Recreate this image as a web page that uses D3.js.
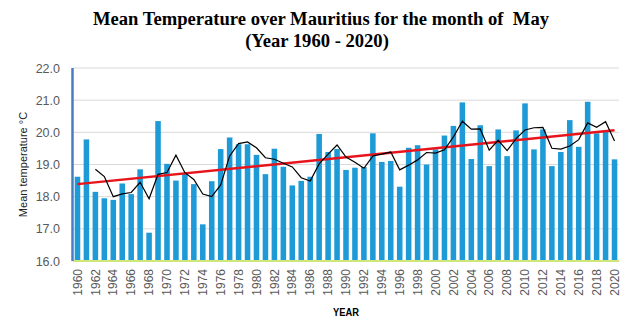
<!DOCTYPE html>
<html>
<head>
<meta charset="utf-8">
<title>May temperature Mauritius</title>
<script src="https://d3js.org/d3.v7.min.js"></script>
<style>
  body { margin: 0; background: #fff; }
</style>
</head>
<body>
<div id="chart"></div>
<script>

// years 1960 - 2020
var years = d3.range(1960, 2021);

// mean May temperature (°C)
var temps = [
  18.62, 19.78, 18.15, 17.95, 17.90, 18.41, 18.08, 18.85, 16.88, 20.35,
  19.02, 18.50, 18.72, 18.39, 17.14, 18.48, 19.48, 19.84, 19.63, 19.63,
  19.30, 18.70, 19.49, 18.93, 18.35, 18.49, 18.62, 19.95, 19.39, 19.48,
  18.83, 18.90, 18.92, 19.97, 19.08, 19.11, 18.31, 19.52, 19.60, 19.00,
  19.47, 19.90, 20.20, 20.93, 19.17, 20.22, 18.95, 20.09, 19.26, 20.06,
  20.90, 19.47, 20.09, 18.95, 19.39, 20.38, 19.55, 20.95, 19.97, 20.07,
  19.16
];

var yTicks = [16, 17, 18, 19, 20, 21, 22];

var width = 637, height = 335;
var plotL = 73, plotR = 619, plotT = 68, plotB = 261;

var svg = d3.select("#chart").append("svg")
  .attr("width", width)
  .attr("height", height);

var x = d3.scaleBand()
  .domain(years)
  .range([plotL, plotR])
  .paddingInner(0.38)
  .paddingOuter(0.19);

var y = d3.scaleLinear()
  .domain([16, 22])
  .range([plotB, plotT]);

// title
var title = svg.append("text")
  .attr("text-anchor", "middle")
  .style("font-family", "'Liberation Serif', 'Times New Roman', serif")
  .style("font-weight", "bold")
  .style("font-size", "18.6px");
title.append("tspan").attr("x", 321).attr("y", 25).text("Mean Temperature over Mauritius for the month of \u00a0May");
title.append("tspan").attr("x", 317).attr("y", 47).text("(Year 1960 - 2020)");

// gridlines
svg.append("g")
  .selectAll("line")
  .data(yTicks)
  .enter().append("line")
    .attr("x1", plotL).attr("x2", plotR)
    .attr("y1", function(d) { return y(d); })
    .attr("y2", function(d) { return y(d); })
    .attr("stroke", "#d9d9d9")
    .attr("stroke-width", 1);

// y axis labels
var yAxis = svg.append("g")
  .attr("transform", "translate(" + plotL + ",0)")
  .call(d3.axisLeft(y).tickValues(yTicks).tickFormat(d3.format(".1f")).tickSize(0).tickPadding(13));
yAxis.select(".domain").remove();
yAxis.selectAll("text")
  .style("font-family", "'Liberation Sans', Arial, sans-serif")
  .style("font-size", "12.5px")
  .attr("fill", "#595959");

svg.append("text")
  .attr("transform", "translate(27," + ((plotT + plotB) / 2) + ") rotate(-90)")
  .attr("text-anchor", "middle")
  .style("font-family", "'Liberation Sans', Arial, sans-serif")
  .style("font-size", "11px")
  .attr("fill", "#222")
  .text("Mean temperature °C");

// bars
svg.append("g")
  .selectAll("rect")
  .data(temps)
  .enter().append("rect")
    .attr("x", function(d, i) { return x(years[i]); })
    .attr("width", x.bandwidth())
    .attr("y", function(d) { return y(d); })
    .attr("height", function(d) { return y(16) - y(d); })
    .attr("fill", "#1e9bd7");

// baseline
svg.append("line")
  .attr("x1", plotL).attr("x2", plotR)
  .attr("y1", plotB).attr("y2", plotB)
  .attr("stroke", "#cfe77a")
  .attr("stroke-width", 2);

// left axis line (blue)
svg.append("line")
  .attr("x1", plotL - 0.5).attr("x2", plotL - 0.5)
  .attr("y1", plotT).attr("y2", plotB)
  .attr("stroke", "#4a7cc2")
  .attr("stroke-width", 2.5);

// x axis labels (every second year)
var xAxis = svg.append("g")
  .attr("transform", "translate(0," + plotB + ")")
  .call(d3.axisBottom(x).tickValues(years.filter(function(d) { return d % 2 === 0; })).tickSize(0));
xAxis.select(".domain").remove();
xAxis.selectAll("text")
  .attr("transform", "rotate(-90)")
  .attr("x", -8)
  .attr("y", 0)
  .attr("dy", "0.35em")
  .attr("text-anchor", "end")
  .style("font-family", "'Liberation Sans', Arial, sans-serif")
  .style("font-size", "12px")
  .attr("fill", "#595959");

svg.append("text")
  .attr("x", 333).attr("y", 316)
  .attr("textLength", 26)
  .attr("lengthAdjust", "spacingAndGlyphs")
  .style("font-family", "'Liberation Sans', Arial, sans-serif")
  .style("font-weight", "bold")
  .style("font-size", "11px")
  .text("YEAR");

// linear trend (least squares over the bars)
var mx = d3.mean(years), my = d3.mean(temps);
var sxy = d3.sum(years, function(d, i) { return (d - mx) * (temps[i] - my); });
var sxx = d3.sum(years, function(d) { return (d - mx) * (d - mx); });
var slope = sxy / sxx, icpt = my - slope * mx;
var xc = function(yr) { return x(yr) + x.bandwidth() / 2; };

svg.append("line")
  .attr("x1", xc(years[0])).attr("y1", y(icpt + slope * years[0]))
  .attr("x2", xc(years[years.length - 1])).attr("y2", y(icpt + slope * years[years.length - 1]))
  .attr("stroke", "#e8141b")
  .attr("stroke-width", 2.5);

// 3 year moving average
var avg = [];
for (var i = 2; i < temps.length; i++) {
  avg.push({ year: years[i], v: d3.mean(temps.slice(i - 2, i + 1)) });
}
svg.append("path")
  .datum(avg)
  .attr("fill", "none")
  .attr("stroke", "#000")
  .attr("stroke-width", 1.2)
  .attr("d", d3.line().x(function(d) { return xc(d.year); }).y(function(d) { return y(d.v); }));

</script>
</body>
</html>
